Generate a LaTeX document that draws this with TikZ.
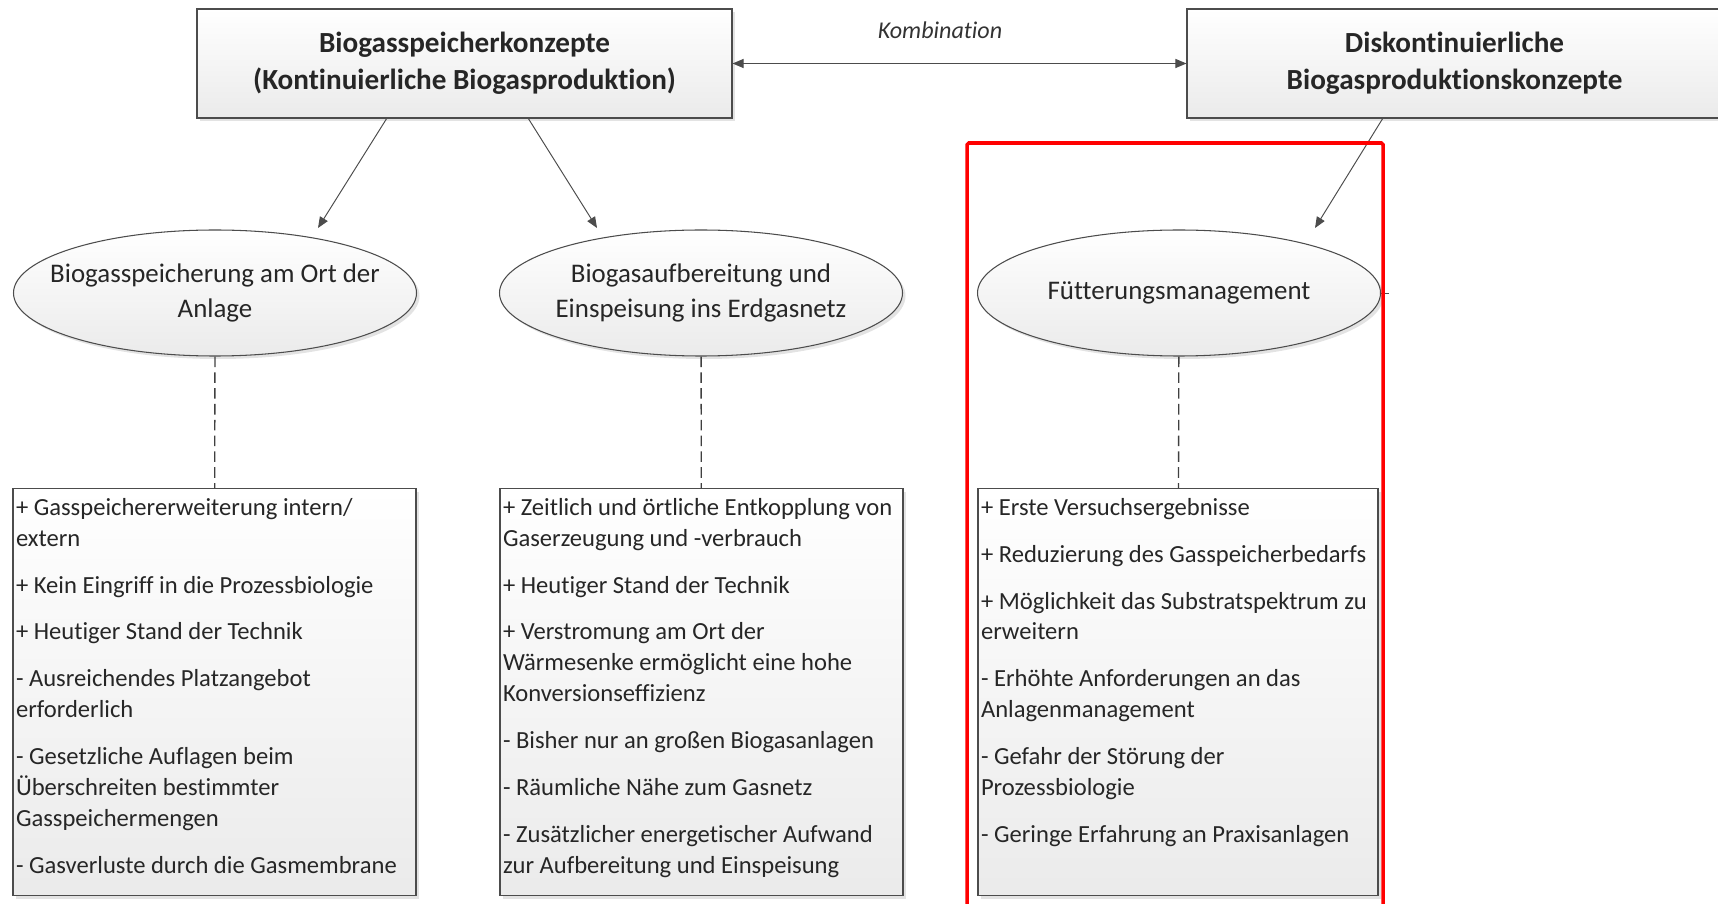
\documentclass[tikz,border=0pt]{standalone}
\usepackage{fontspec}
\setmainfont{Carlito}[Ligatures=NoCommon]
\usetikzlibrary{arrows.meta, shapes.geometric, shadows}

\newcommand{\prolist}[2]{\begin{minipage}[t][7.94cm][t]{#1}\raggedright\strut#2\end{minipage}}

\begin{document}
\begin{tikzpicture}[
  >={Triangle[length=2.2mm, width=1.8mm]},
  line/.style={draw=black!70, line width=0.55pt},
  flow/.style={line, ->},
  link/.style={draw=black!75, line width=0.75pt, dash pattern=on 6pt off 3pt},
  shadowed/.style={drop shadow={opacity=0.22, shadow xshift=0.6mm, shadow yshift=-0.6mm}},
  basebox/.style={draw=black!70, line width=0.6pt, top color=white, bottom color=gray!16,
                  shadowed, text=black!85},
  conceptbox/.style={basebox, minimum width=10.7cm, minimum height=2.18cm, align=center,
                     font=\fontsize{16.6}{21}\selectfont\bfseries},
  methodell/.style={basebox, ellipse, minimum width=8.06cm, minimum height=2.52cm,
                    inner xsep=-1cm, inner ysep=0pt, align=center, font=\fontsize{15.3}{19.9}\selectfont},
  listbox/.style={basebox, anchor=north, inner xsep=0.06cm, inner ysep=0.1cm,
                  font=\fontsize{14}{17.6}\selectfont}
]
\path[use as bounding box, clip] (0,0) rectangle (34.36,-18.08);

% concepts on top
\node[conceptbox] (cont) at (9.29,-1.27) {Biogasspeicherkonzepte\\(Kontinuierliche Biogasproduktion)};
\node[conceptbox] (disc) at (29.09,-1.27) {Diskontinuierliche\\Biogasproduktionskonzepte};
\draw[flow, <->] (cont) -- (disc);
\node[font=\fontsize{13.7}{16}\selectfont\itshape, text=black!80] (komb) at (18.8,-0.6) {Kombination};

% methods
\node[methodell] (onsite) at (4.3,-5.86)  {Biogasspeicherung am Ort der\\Anlage};
\node[methodell] (grid)   at (14.02,-5.86) {Biogasaufbereitung und\\Einspeisung ins Erdgasnetz};
\node[methodell] (feed)   at (23.58,-5.86) {Fütterungsmanagement};

\coordinate (c1) at (7.74,-2.36);  \coordinate (t1) at (6.36,-4.56);
\coordinate (c2) at (10.56,-2.36); \coordinate (t2) at (11.94,-4.56);
\coordinate (c3) at (27.66,-2.36); \coordinate (t3) at (26.3,-4.56);
\draw[flow] (c1) -- (t1);
\draw[flow] (c2) -- (t2);
\draw[flow] (c3) -- (t3);
\coordinate (stub) at (27.78,-5.86);
\draw[line] (feed.east) -- (stub);

% pros and cons
\node[listbox] (onsitelist) at (4.29,-9.76) {\prolist{7.94cm}{%
+ Gasspeichererweiterung intern/\\extern\\[9.1pt]
+ Kein Eingriff in die Prozessbiologie\\[9.1pt]
+ Heutiger Stand der Technik\\[9.1pt]
- Ausreichendes Platzangebot\\erforderlich\\[9.1pt]
- Gesetzliche Auflagen beim\\Überschreiten bestimmter\\Gasspeichermengen\\[9.1pt]
- Gasverluste durch die Gasmembrane}};
\node[listbox] (gridlist) at (14.03,-9.76) {\prolist{7.94cm}{%
+ Zeitlich und örtliche Entkopplung von\\Gaserzeugung und -verbrauch\\[9.1pt]
+ Heutiger Stand der Technik\\[9.1pt]
+ Verstromung am Ort der\\Wärmesenke ermöglicht eine hohe\\Konversionseffizienz\\[9.1pt]
- Bisher nur an großen Biogasanlagen\\[9.1pt]
- Räumliche Nähe zum Gasnetz\\[9.1pt]
- Zusätzlicher energetischer Aufwand\\zur Aufbereitung und Einspeisung}};
\node[listbox] (feedlist) at (23.56,-9.76) {\prolist{7.88cm}{%
+ Erste Versuchsergebnisse\\[9.1pt]
+ Reduzierung des Gasspeicherbedarfs\\[9.1pt]
+ Möglichkeit das Substratspektrum zu\\erweitern\\[9.1pt]
- Erhöhte Anforderungen an das\\Anlagenmanagement\\[9.1pt]
- Gefahr der Störung der\\Prozessbiologie\\[9.1pt]
- Geringe Erfahrung an Praxisanlagen}};

\draw[link] (onsite) -- (onsitelist);
\draw[link] (grid) -- (gridlist);
\draw[link] (feed) -- (feedlist);

% highlight
\draw[red, line width=2pt, rounded corners=1pt] (19.34,-19) |- (27.66,-2.86) -- (27.66,-19);

\end{tikzpicture}
\end{document}
